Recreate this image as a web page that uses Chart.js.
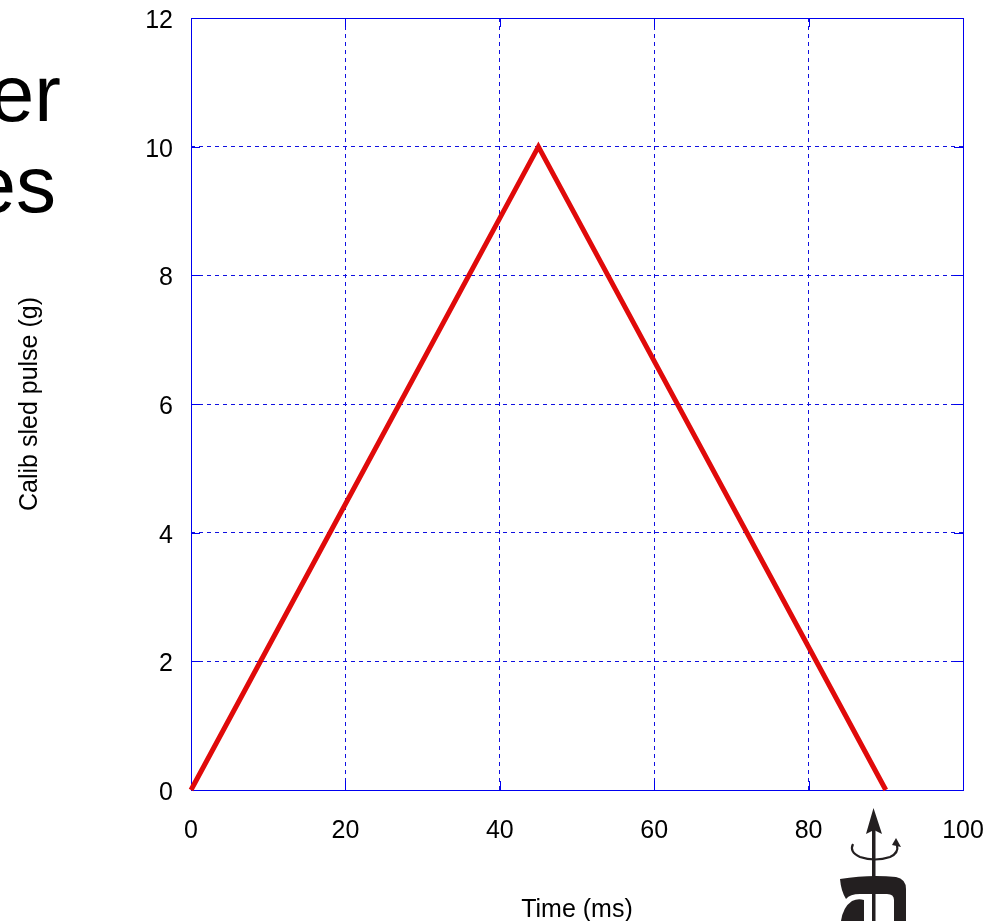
<!DOCTYPE html>
<html>
<head>
<meta charset="utf-8">
<script src="https://cdn.jsdelivr.net/npm/chart.js@4"></script>
<style>
  html, body { margin: 0; padding: 0; background: #fff; }
  #wrap { position: relative; width: 998px; height: 921px; overflow: hidden; }
  #chart { position: absolute; left: 0; top: 0; }
  .slide { position: absolute; font-family: "Liberation Sans", Arial, Helvetica, sans-serif;
           font-size: 80px; line-height: 1; color: #000; white-space: nowrap; text-align: right; }
  #logo { position: absolute; left: 830px; top: 800px; }
</style>
</head>
<body>
<div id="wrap">
  <canvas id="chart" width="998" height="921"></canvas>
  <div class="slide" style="right:937px; top:54px;">er</div>
  <div class="slide" style="right:942px; top:145px;">es</div>
  <svg id="logo" width="90" height="121" viewBox="0 0 90 121">
    <g fill="#231f20" stroke="none">
      <path d="M43.5 8 L52 34 L44 30 L36 34 Z"/>
      <rect x="42" y="28" width="3.5" height="93"/>
      <path d="M66 38 L71 47 L62 45 Z"/>
      <path d="M10 79 Q40 74 66 77 Q76 79 76 89 L76 121 L64 121 L64 100 Q64 94 57 94 L30 94 Q20 94 16 99 Q11 91 10 79 Z"/>
      <path d="M11 121 Q13 107 22 101 Q28 98 34 100 L34 121 Z"/>
    </g>
    <path d="M23 44 Q19 52 30 57 Q45 62 60 57 Q69 53 67 45" fill="none" stroke="#231f20" stroke-width="2.2"/>
    <path d="M50 121 L50 105 Q50 100 55 100 Q60 100 60 105 L60 121" fill="#fff"/>
  </svg>
</div>
<script>
// calib sled pulse, triangular
const timeMs = [0, 45, 90];
const pulseG = [0, 10, 0];

const X_MIN = 0, X_MAX = 100, X_STEP = 20;
const Y_MIN = 0, Y_MAX = 12, Y_STEP = 2;

const xTitle = 'Time (ms)';
const yTitle = 'Calib sled pulse (g)';

const FONT = '"Liberation Sans", Arial, Helvetica, sans-serif';
const GRID_BLUE = '#1010e0';
const FRAME_BLUE = '#0000f0';

// gnuplot-like frame with inward tick marks on all four sides
const framePlugin = {
  id: 'frame',
  beforeDatasetsDraw(chart) {
    const { ctx, chartArea: a, scales } = chart;
    const len = 9;
    ctx.save();
    ctx.setLineDash([]);
    ctx.strokeStyle = FRAME_BLUE;
    ctx.lineWidth = 1;
    ctx.beginPath();
    for (const t of scales.x.ticks) {
      const px = Math.round(scales.x.getPixelForValue(t.value)) + 0.5;
      ctx.moveTo(px, a.bottom); ctx.lineTo(px, a.bottom - len);
      ctx.moveTo(px, a.top); ctx.lineTo(px, a.top + len);
    }
    for (const t of scales.y.ticks) {
      const py = Math.round(scales.y.getPixelForValue(t.value)) + 0.5;
      ctx.moveTo(a.left, py); ctx.lineTo(a.left + len, py);
      ctx.moveTo(a.right, py); ctx.lineTo(a.right - len, py);
    }
    ctx.stroke();
    ctx.strokeRect(Math.round(a.left) + 0.5, Math.round(a.top) + 0.5,
                   Math.round(a.right - a.left), Math.round(a.bottom - a.top));
    ctx.restore();
  }
};

function gridColor(min, max) {
  return (c) => (c.tick && (c.tick.value === min || c.tick.value === max)) ? 'rgba(0,0,0,0)' : GRID_BLUE;
}

// fixed axis box, no extra label overflow padding
function fixBox(size, key) {
  return (s) => {
    s[key] = size;
    s.paddingTop = s.paddingBottom = s.paddingLeft = s.paddingRight = 0;
  };
}

new Chart(document.getElementById('chart'), {
  type: 'line',
  data: {
    datasets: [{
      data: timeMs.map((t, i) => ({ x: t, y: pulseG[i] })),
      borderColor: '#e00a0a',
      borderWidth: 5,
      pointRadius: 0,
      tension: 0,
      fill: false,
      clip: false,
    }],
  },
  options: {
    responsive: false,
    animation: false,
    layout: { padding: { left: 0, top: 18, right: 35, bottom: 0 } },
    plugins: { legend: { display: false }, tooltip: { enabled: false } },
    scales: {
      x: {
        type: 'linear',
        min: X_MIN, max: X_MAX,
        afterFit: fixBox(131, 'height'),
        ticks: { stepSize: X_STEP, color: '#000', padding: 26, maxRotation: 0,
                 font: { family: FONT, size: 25 } },
        grid: { drawTicks: false, color: gridColor(X_MIN, X_MAX), lineWidth: 1 },
        border: { display: false, dash: [4, 4] },
        title: { display: true, text: xTitle, color: '#000',
                 font: { family: FONT, size: 25, lineHeight: 0.85 }, padding: { top: 0, bottom: 0 } },
      },
      y: {
        type: 'linear',
        min: Y_MIN, max: Y_MAX,
        afterFit: fixBox(191, 'width'),
        ticks: { stepSize: Y_STEP, color: '#000', padding: 18, labelOffset: 3,
                 font: { family: FONT, size: 25 } },
        grid: { drawTicks: false, color: gridColor(Y_MIN, Y_MAX), lineWidth: 1 },
        border: { display: false, dash: [4, 4] },
        title: { display: true, text: yTitle, color: '#000',
                 font: { family: FONT, size: 25, lineHeight: 1 }, padding: { top: 18, bottom: 0 } },
      },
    },
  },
  plugins: [framePlugin],
});
</script>
</body>
</html>
